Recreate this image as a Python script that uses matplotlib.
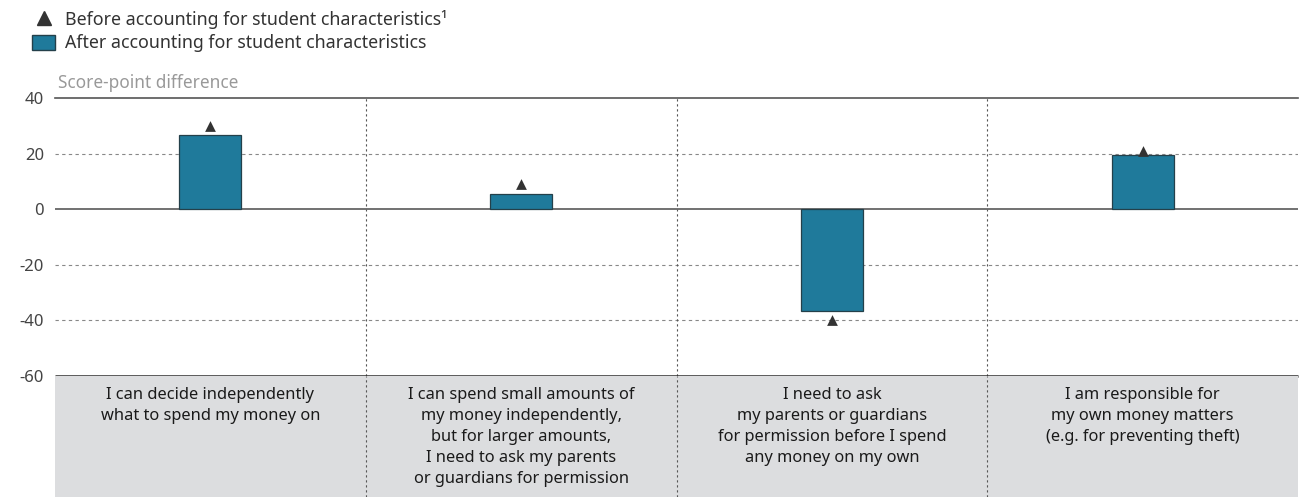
import matplotlib
matplotlib.use("Agg")
import matplotlib.pyplot as plt
from matplotlib.lines import Line2D
from matplotlib.patches import Patch

plt.rcParams['font.family'] = ['Noto Sans', 'DejaVu Sans']

categories = ["I can decide independently\nwhat to spend my money on",
              "I can spend small amounts of\nmy money independently,\nbut for larger amounts,\nI need to ask my parents\nor guardians for permission",
              "I need to ask\nmy parents or guardians\nfor permission before I spend\nany money on my own",
              "I am responsible for\nmy own money matters\n(e.g. for preventing theft)"]
after_vals = [26.7, 5.6, -36.5, 19.5]
before_vals = [30.0, 9.0, -39.7, 20.8]
yticks = [40, 20, 0, -20, -40, -60]

bar_col = '#1f7a9b'
tri_col = '#333333'

fig = plt.figure(figsize=(13.01, 4.97), dpi=100)
ax = fig.add_axes([0.0423, 0.2435, 0.9554, 0.5593])
axb = fig.add_axes([0.0423, 0.0, 0.9554, 0.2435])

x = list(range(len(categories)))
ax.bar(x, after_vals, width=0.2, color=bar_col, edgecolor='#24404a', linewidth=0.9, zorder=3)
ax.scatter(x, before_vals, marker='^', s=60, color=tri_col, zorder=4, linewidths=0)

ax.set_xlim(-0.5, len(categories) - 0.5)
ax.set_ylim(-60, 40)
ax.set_yticks(yticks)
ax.set_yticklabels([str(t) for t in yticks])
ax.tick_params(axis='y', length=0, pad=8, labelsize=12, labelcolor='#444444')
ax.set_xticks([])
for s in ['left', 'right']:
    ax.spines[s].set_visible(False)
ax.spines['top'].set_color('#555555')
ax.spines['top'].set_linewidth(1.2)
ax.spines['bottom'].set_color('#2a2a2a')
ax.spines['bottom'].set_linewidth(1.8)
ax.spines['bottom'].set_capstyle('butt')
ax.spines['bottom'].set_zorder(6)

for t in [20, -20, -40]:
    ax.axhline(t, color='#888888', lw=0.8, ls=(0, (3, 3)), zorder=1)
ax.axhline(0, color='#666666', lw=1.3, zorder=2)
for b in [0.5, 1.5, 2.5]:
    ax.axvline(b, color='#555555', lw=0.8, ls=(0, (2, 2.5)), zorder=1)

ax.text(0.002, 1.02, 'Score-point difference', transform=ax.transAxes,
        fontsize=12.4, color='#999999', ha='left', va='bottom')

# label strip
axb.set_facecolor('#dcdddf')
axb.set_xlim(-0.5, len(categories) - 0.5)
axb.set_ylim(0, 1)
axb.set_xticks([])
axb.set_yticks([])
for s in axb.spines.values():
    s.set_visible(False)
for b in [0.5, 1.5, 2.5]:
    axb.axvline(b, color='#555555', lw=0.8, ls=(0, (2, 2.5)))
for i, c in enumerate(categories):
    axb.text(i, 0.91, c, ha='center', va='top', fontsize=11.8, color='#1a1a1a',
             linespacing=1.42, fontweight='medium')

handles = [Line2D([], [], marker='^', color=tri_col, linestyle='none', markersize=10),
           Patch(facecolor=bar_col, edgecolor='#24404a')]
labels = ['Before accounting for student characteristics¹',
          'After accounting for student characteristics']
fig.legend(handles, labels, loc='upper left', bbox_to_anchor=(0.0125, 1.012),
           frameon=False, fontsize=12.8, handlelength=1.3, handleheight=0.9,
           handletextpad=0.55, labelspacing=0.3, labelcolor='#333333')

fig.savefig('out.png', dpi=100)
